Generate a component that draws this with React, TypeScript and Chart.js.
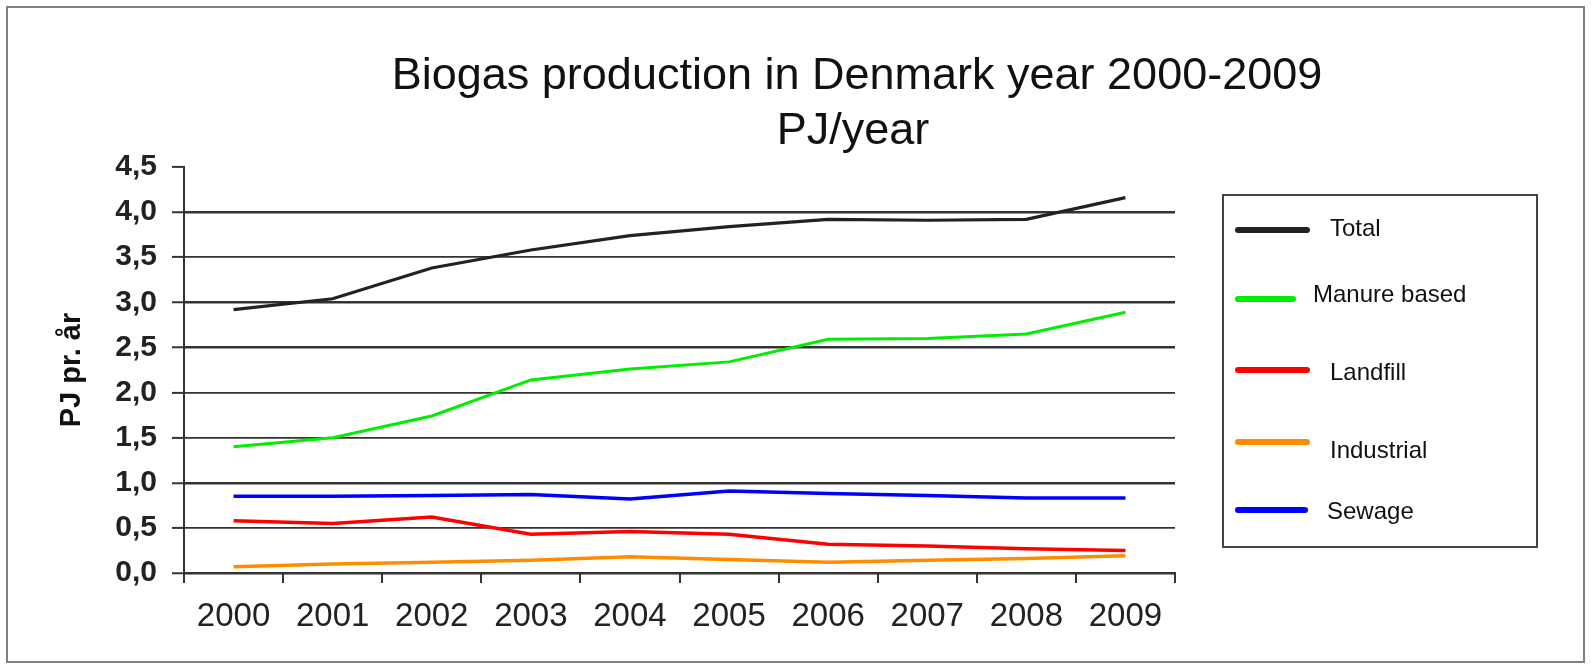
import React, { useEffect, useRef } from 'react';
import { Chart, registerables } from 'chart.js';

Chart.register(...registerables);

const FONT = 'Arial, "Liberation Sans", sans-serif';

const years = ['2000', '2001', '2002', '2003', '2004', '2005', '2006', '2007', '2008', '2009'];
const totalValues = [2.92, 3.04, 3.38, 3.58, 3.74, 3.84, 3.92, 3.91, 3.92, 4.16];
const manureValues = [1.4, 1.5, 1.74, 2.14, 2.26, 2.34, 2.59, 2.6, 2.65, 2.89];
const landfillValues = [0.58, 0.55, 0.62, 0.43, 0.46, 0.43, 0.32, 0.3, 0.27, 0.25];
const industrialValues = [0.07, 0.1, 0.12, 0.14, 0.18, 0.15, 0.12, 0.14, 0.16, 0.19];
const sewageValues = [0.85, 0.85, 0.86, 0.87, 0.82, 0.91, 0.88, 0.86, 0.83, 0.83];

const seriesLabels = ['Total', 'Manure based', 'Landfill', 'Industrial', 'Sewage'];
const seriesColors = ['#222222', '#00ee00', '#ff0000', '#ff8c00', '#0000ff'];
const seriesWidths = [3.2, 3, 3.5, 3.5, 3.5];

const titleLines = ['Biogas production in Denmark year 2000-2009', 'PJ/year'];
const yAxisTitle = 'PJ pr. år';
const yMin = 0;
const yMax = 4.5;
const yStep = 0.5;
const thickGridValues = [4.0, 3.0, 2.5, 1.0, 0];

// layout (pixels)
const W = 1591;
const H = 664;
const LEGEND_BOX = { x: 1223, y: 195, w: 314, h: 352 };
const LEGEND_LINE_Y = [230, 299, 370, 442, 510];
const LEGEND_LINE_END = [1307, 1293, 1307, 1307, 1305];
const LEGEND_TEXT_X = [1330, 1313, 1330, 1330, 1327];
const LEGEND_TEXT_Y = [229, 295, 373, 451, 512];

const framePlugin = {
  id: 'frame',
  beforeDraw(chart: any) {
    const ctx = chart.ctx;
    ctx.save();
    ctx.fillStyle = '#ffffff';
    ctx.fillRect(0, 0, chart.width, chart.height);
    ctx.strokeStyle = '#808080';
    ctx.lineWidth = 2;
    ctx.strokeRect(7, 7, chart.width - 14, chart.height - 9);
    ctx.restore();
  },
};

const titlePlugin = {
  id: 'customTitle',
  afterDraw(chart: any) {
    const ctx = chart.ctx;
    ctx.save();
    ctx.fillStyle = '#111111';
    ctx.font = `45px ${FONT}`;
    ctx.textAlign = 'center';
    ctx.textBaseline = 'alphabetic';
    ctx.fillText(titleLines[0], 857, 89);
    ctx.fillText(titleLines[1], 853, 144);
    ctx.restore();
  },
};

const legendPlugin = {
  id: 'customLegend',
  afterDraw(chart: any) {
    const ctx = chart.ctx;
    ctx.save();
    ctx.strokeStyle = '#444444';
    ctx.lineWidth = 2;
    ctx.strokeRect(LEGEND_BOX.x, LEGEND_BOX.y, LEGEND_BOX.w, LEGEND_BOX.h);
    chart.data.datasets.forEach((ds: any, i: number) => {
      ctx.strokeStyle = ds.borderColor;
      ctx.lineWidth = 6;
      ctx.lineCap = 'round';
      ctx.beginPath();
      ctx.moveTo(1238, LEGEND_LINE_Y[i]);
      ctx.lineTo(LEGEND_LINE_END[i], LEGEND_LINE_Y[i]);
      ctx.stroke();
      ctx.fillStyle = '#111111';
      ctx.font = `24px ${FONT}`;
      ctx.textAlign = 'left';
      ctx.textBaseline = 'middle';
      ctx.fillText(ds.label, LEGEND_TEXT_X[i], LEGEND_TEXT_Y[i]);
    });
    ctx.restore();
  },
};

export default function App() {
  const canvasRef = useRef<HTMLCanvasElement | null>(null);

  useEffect(() => {
    if (!canvasRef.current) return;
    const allValues = [totalValues, manureValues, landfillValues, industrialValues, sewageValues];
    const chart = new Chart(canvasRef.current, {
      type: 'line',
      data: {
        labels: years,
        datasets: seriesLabels.map((label, i) => ({
          label,
          data: allValues[i],
          borderColor: seriesColors[i],
          backgroundColor: seriesColors[i],
          borderWidth: seriesWidths[i],
          pointRadius: 0,
          tension: 0,
          fill: false,
        })),
      },
      options: {
        responsive: false,
        animation: false,
        devicePixelRatio: 1,
        layout: { padding: { top: 167, left: 50, right: W - 1175, bottom: 0 } },
        plugins: {
          legend: { display: false },
          title: { display: false },
          tooltip: { enabled: false },
        },
        scales: {
          x: {
            type: 'category',
            offset: true,
            grid: {
              offset: true,
              drawOnChartArea: false,
              drawTicks: true,
              tickLength: 10,
              color: '#333333',
              lineWidth: 2,
            },
            border: { display: true, color: '#333333', width: 2 },
            ticks: {
              color: '#222222',
              font: { family: FONT, size: 33 },
              padding: 14,
              maxRotation: 0,
              autoSkip: false,
            },
            afterFit(scale: any) {
              scale.height = H - 573;
              scale.paddingLeft = 0;
              scale.paddingRight = 0;
            },
          },
          y: {
            min: yMin,
            max: yMax,
            grid: {
              drawTicks: true,
              tickLength: 12,
              color: (c: any) =>
                c.tick && Math.abs(c.tick.value - yMax) < 1e-6 ? 'rgba(0,0,0,0)' : '#333333',
              lineWidth: (c: any) =>
                c.tick && thickGridValues.some((v) => Math.abs(v - c.tick.value) < 1e-6) ? 2.5 : 1.8,
              tickColor: '#333333',
              tickWidth: 2,
            },
            border: { display: true, color: '#333333', width: 2 },
            ticks: {
              stepSize: yStep,
              color: '#222222',
              font: { family: FONT, size: 30, weight: 'bold' },
              padding: 15,
              callback: (v: any) => Number(v).toFixed(1).replace('.', ','),
            },
            title: {
              display: true,
              text: yAxisTitle,
              color: '#111111',
              font: { family: FONT, size: 29, weight: 'bold' },
              padding: { top: 5, bottom: 0 },
            },
            afterFit(scale: any) {
              scale.width = 184 - 50;
              scale.paddingTop = 0;
              scale.paddingBottom = 0;
            },
          },
        },
      },
      plugins: [framePlugin, titlePlugin, legendPlugin],
    } as any);
    return () => chart.destroy();
  }, []);

  return (
    <div style={{ position: 'absolute', left: 0, top: 0, width: W, height: H }}>
      <canvas ref={canvasRef} width={W} height={H} style={{ display: 'block' }} />
    </div>
  );
}
